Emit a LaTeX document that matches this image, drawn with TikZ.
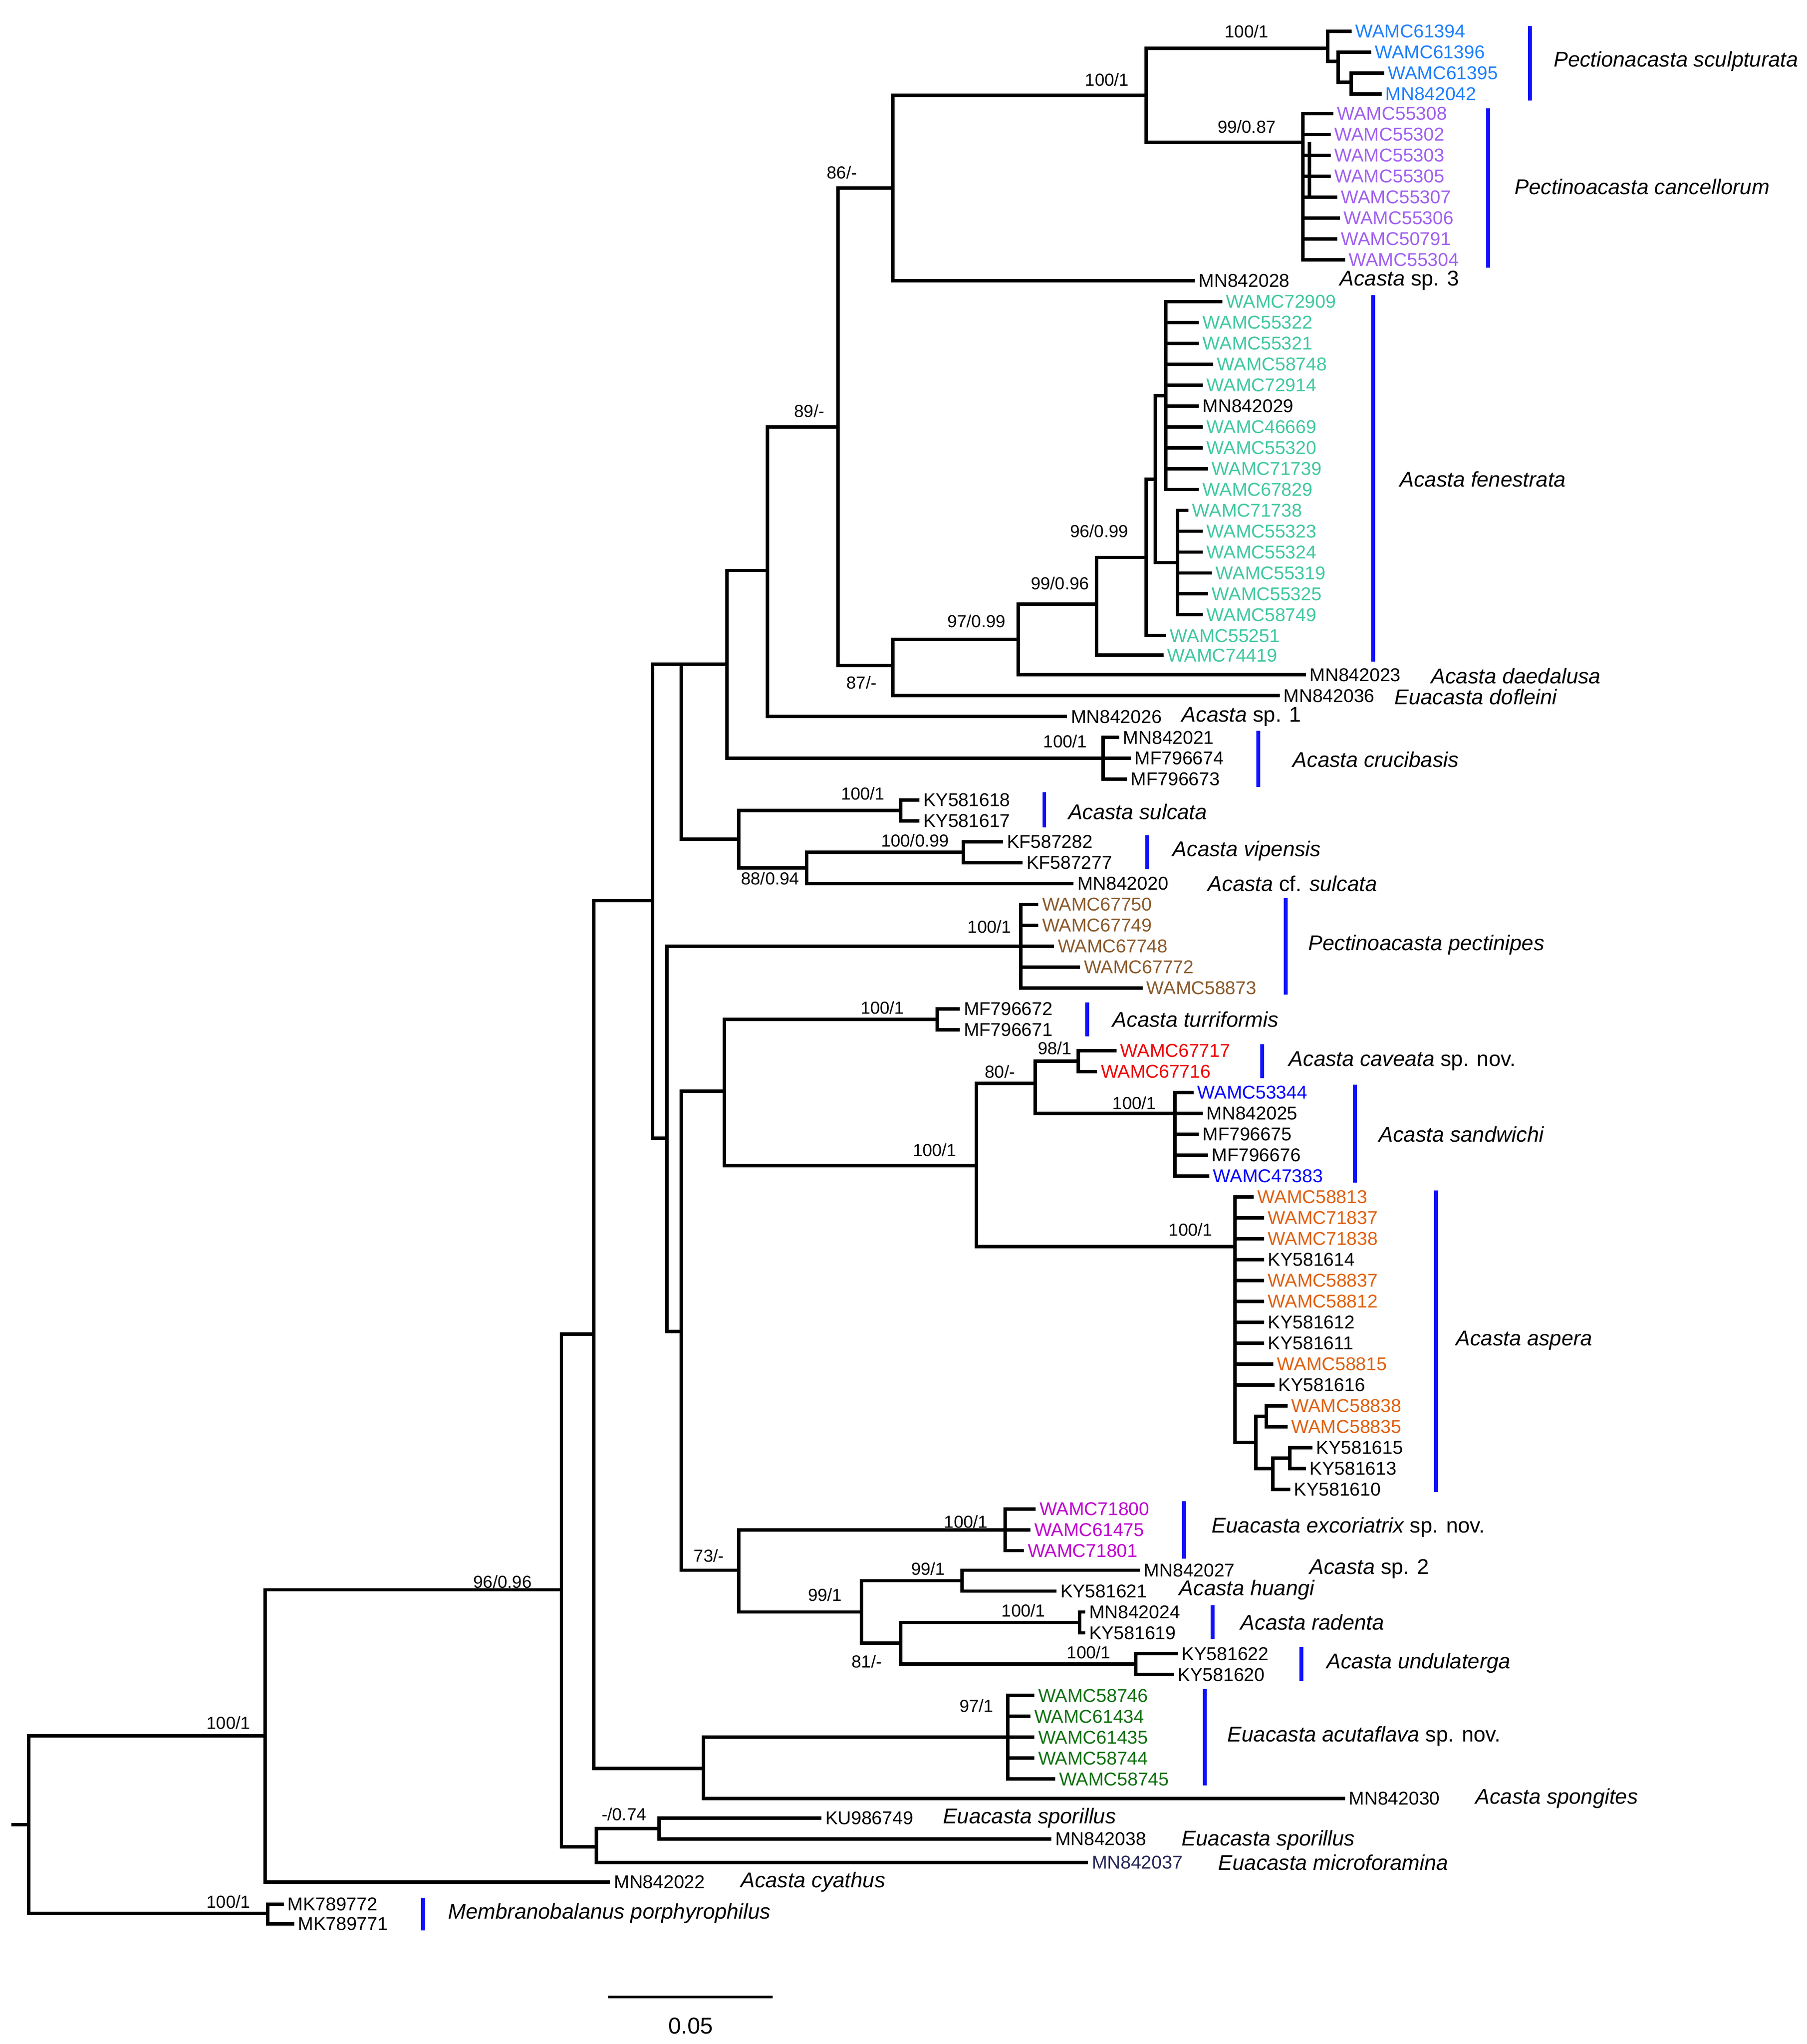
\documentclass[tikz,border=0pt]{standalone}
\usepackage{fontspec}
\setmainfont{Liberation Sans}
\definecolor{cSc}{RGB}{30,127,255}
\definecolor{cCa}{RGB}{160,96,240}
\definecolor{cFe}{RGB}{64,200,160}
\definecolor{cPe}{RGB}{139,90,43}
\definecolor{cCv}{RGB}{240,0,0}
\definecolor{cSa}{RGB}{0,0,255}
\definecolor{cAs}{RGB}{224,96,16}
\definecolor{cEx}{RGB}{192,0,208}
\definecolor{cAc}{RGB}{16,112,16}
\definecolor{cMi}{RGB}{40,40,90}
\definecolor{cBar}{RGB}{16,16,255}
\newcommand\grp[3]{\foreach \lx/\ly/\lt in {#3}{\draw[br] (#1,\ly) -- (\lx-4,\ly); \node[tip,text=#2] at (\lx,\ly) {\lt};}}
\newcommand\vl[3]{\draw[br] (#1,#2) -- (#1,#3);}
\newcommand\hl[3]{\draw[br] (#2,#1) -- (#3,#1);}
\begin{document}
\begin{tikzpicture}[x=0.02cm,y=-0.02cm,
 br/.style={line width=1.5pt,line cap=rect},
 tip/.style={anchor=west,inner sep=0pt,font=\fontsize{8.1}{9}\selectfont},
 sp/.style={anchor=west,inner sep=0pt,font=\fontsize{9.3}{10}\selectfont\itshape},
 bs/.style={inner sep=0pt,font=\fontsize{7.6}{9}\selectfont},
 bar/.style={line width=1.7pt,cBar}]
\useasboundingbox (0,0) rectangle (1384,1566);
% sculpturata
\vl{878}{37}{109}
\hl{37}{878}{1017}\vl{1017}{24}{47}
\grp{1017}{cSc}{1038/24/WAMC61394}
\hl{47}{1017}{1025}\vl{1025}{40}{63}
\grp{1025}{cSc}{1053/40/WAMC61396}
\hl{63}{1025}{1035}\vl{1035}{56}{72}
\grp{1035}{cSc}{1063/56/WAMC61395,1061/72/MN842042}
% cancellorum
\hl{109}{878}{998}\vl{998}{87}{199}
\vl{1003}{110}{150}
\grp{998}{cCa}{1024/87/WAMC55308,1022/103/WAMC55302,1022/119/WAMC55303,1022/135/WAMC55305,1027/151/WAMC55307,1029/167/WAMC55306,1027/183/WAMC50791,1033/199/WAMC55304}
\hl{73}{684}{878}\vl{684}{73}{215}
\grp{684}{black}{918/215/MN842028}
% fenestrata
\hl{144}{642}{684}\vl{642}{144}{510}
\hl{510}{642}{684}\vl{684}{490}{533}
\grp{684}{black}{983/533/MN842036}
\hl{490}{684}{780}\vl{780}{463}{517}
\grp{780}{black}{1003/517/MN842023}
\hl{463}{780}{840}\vl{840}{427}{500}
\grp{840}{cFe}{894/502/WAMC74419}
\hl{427}{840}{878}\vl{878}{367}{487}
\grp{878}{cFe}{896/487/WAMC55251}
\hl{367}{878}{885}\vl{885}{303}{431}
\hl{303}{885}{893}\vl{893}{231}{375}
\grp{893}{cFe}{939/231/WAMC72909,921/247/WAMC55322,921/263/WAMC55321,932/279/WAMC58748,924/295/WAMC72914,924/327/WAMC46669,924/343/WAMC55320,928/359/WAMC71739,921/375/WAMC67829}
\grp{893}{black}{921/311/MN842029}
\hl{431}{885}{902}\vl{902}{391}{471}
\grp{902}{cFe}{913/391/WAMC71738,924/407/WAMC55323,924/423/WAMC55324,931/439/WAMC55319,928/455/WAMC55325,924/471/WAMC58749}
% upper backbone
\hl{327}{588}{642}\vl{588}{327}{549}
\grp{588}{black}{820/549/MN842026}
\hl{437}{557}{588}\vl{557}{437}{581}
\hl{581}{557}{845}\vl{845}{565}{597}
\grp{845}{black}{860/565/MN842021,869/581/MF796674,866/597/MF796673}
\hl{509}{522}{557}\vl{522}{509}{643}
\hl{643}{522}{566}\vl{566}{621}{665}
\hl{621}{566}{690}\vl{690}{613}{629}
\grp{690}{black}{707/613/KY581618,707/629/KY581617}
\hl{665}{566}{618}\vl{618}{653}{677}
\grp{618}{black}{825/677/MN842020}
\hl{653}{618}{738}\vl{738}{645}{661}
\grp{738}{black}{771/645/KF587282,786/661/KF587277}
\hl{509}{500}{522}\vl{500}{509}{872}
% pectinipes and middle
\hl{872}{500}{511}\vl{511}{725}{1020}
\hl{725}{511}{782}\vl{782}{693}{757}
\grp{782}{cPe}{798/693/WAMC67750,798/709/WAMC67749,810/725/WAMC67748,830/741/WAMC67772,878/757/WAMC58873}
\hl{1020}{511}{522}\vl{522}{836}{1203}
\hl{836}{522}{555}\vl{555}{781}{893}
\hl{781}{555}{718}\vl{718}{773}{789}
\grp{718}{black}{738/773/MF796672,738/789/MF796671}
\hl{893}{555}{748}\vl{748}{830}{955}
\hl{830}{748}{793}\vl{793}{813}{853}
\hl{813}{793}{826}\vl{826}{805}{821}
\grp{826}{cCv}{858/805/WAMC67717,843/821/WAMC67716}
\hl{853}{793}{900}\vl{900}{837}{901}
\grp{900}{cSa}{917/837/WAMC53344,929/901/WAMC47383}
\grp{900}{black}{924/853/MN842025,921/869/MF796675,928/885/MF796676}
\hl{955}{748}{946}\vl{946}{917}{1105}
\grp{946}{cAs}{963/917/WAMC58813,971/933/WAMC71837,971/949/WAMC71838,971/981/WAMC58837,971/997/WAMC58812,978/1045/WAMC58815}
\grp{946}{black}{971/965/KY581614,971/1013/KY581612,971/1029/KY581611,979/1061/KY581616}
\hl{1105}{946}{962}\vl{962}{1085}{1125}
\hl{1085}{962}{970}\vl{970}{1077}{1093}
\grp{970}{cAs}{989/1077/WAMC58838,989/1093/WAMC58835}
\hl{1125}{962}{975}\vl{975}{1117}{1141}
\grp{975}{black}{991/1141/KY581610}
\hl{1117}{975}{988}\vl{988}{1109}{1125}
\grp{988}{black}{1008/1109/KY581615,1003/1125/KY581613}
% lower middle
\hl{1203}{522}{566}\vl{566}{1172}{1235}
\hl{1172}{566}{770}\vl{770}{1156}{1188}
\grp{770}{cEx}{796/1156/WAMC71800,792/1172/WAMC61475,787/1188/WAMC71801}
\hl{1235}{566}{660}\vl{660}{1211}{1259}
\hl{1211}{660}{737}\vl{737}{1203}{1219}
\grp{737}{black}{876/1203/MN842027,812/1219/KY581621}
\hl{1259}{660}{690}\vl{690}{1243}{1275}
\hl{1243}{690}{827}\vl{827}{1235}{1251}
\grp{827}{black}{834/1235/MN842024,834/1251/KY581619}
\hl{1275}{690}{870}\vl{870}{1267}{1283}
\grp{870}{black}{905/1267/KY581622,902/1283/KY581620}
% acutaflava
\hl{690}{455}{500}\vl{455}{690}{1355}
\hl{1355}{455}{539}\vl{539}{1331}{1378}
\hl{1331}{539}{772}\vl{772}{1299}{1363}
\grp{772}{cAc}{795/1299/WAMC58746,792/1315/WAMC61434,795/1331/WAMC61435,795/1347/WAMC58744,811/1363/WAMC58745}
\grp{539}{black}{1033/1378/MN842030}
% base
\hl{1022}{430}{455}\vl{430}{1022}{1415}
\hl{1415}{430}{457}\vl{457}{1401}{1427}
\hl{1401}{457}{505}\vl{505}{1393}{1409}
\grp{505}{black}{632/1393/KU986749,808/1409/MN842038}
\grp{457}{cMi}{836/1427/MN842037}
\hl{1218}{203}{430}\vl{203}{1218}{1442}
\grp{203}{black}{470/1442/MN842022}
\hl{1330}{22}{203}\vl{22}{1330}{1466}
\hl{1466}{22}{205}\vl{205}{1459}{1474}
\grp{205}{black}{220/1459/MK789772,228/1474/MK789771}
\hl{1398}{10}{22}
% support values
\foreach \x/\y/\t in {955/24/100\slash 1,848/61/100\slash 1,955/97/99\slash 0.87,645/132/86\slash -,620/315/89\slash -,842/407/96\slash 0.99,812/447/99\slash 0.96,748/476/97\slash 0.99,660/523/87\slash -,816/568/100\slash 1,661/608/100\slash 1,701/644/100\slash 0.99,590/673/88\slash 0.94,758/710/100\slash 1,676/772/100\slash 1,808/803/98\slash 1,766/821/80\slash -,869/845/100\slash 1,716/881/100\slash 1,912/942/100\slash 1,740/1166/100\slash 1,543/1192/73\slash -,711/1202/99\slash 1,632/1222/99\slash 1,784/1234/100\slash 1,664/1273/81\slash -,834/1266/100\slash 1,748/1307/97\slash 1,385/1212/96\slash 0.96,175/1320/100\slash 1,478/1390/-\slash 0.74,175/1457/100\slash 1}
 \node[bs] at (\x,\y) {\t};
% species names
\node[sp] at (1190,47) {Pectionacasta sculpturata};
\node[sp] at (1160,143) {Pectinoacasta cancellorum};
\node[sp] at (1026,215) {Acasta \upshape sp. 3};
\node[sp] at (1072,367) {Acasta fenestrata};
\node[sp] at (1096,518) {Acasta daedalusa};
\node[sp] at (1068,534) {Euacasta dofleini};
\node[sp] at (905,549) {Acasta \upshape sp. 1};
\node[sp] at (990,582) {Acasta crucibasis};
\node[sp] at (818,622) {Acasta sulcata};
\node[sp] at (898,652) {Acasta vipensis};
\node[sp] at (925,677) {Acasta \upshape cf. \itshape sulcata};
\node[sp] at (1002,724) {Pectinoacasta pectinipes};
\node[sp] at (852,781) {Acasta turriformis};
\node[sp] at (987,813) {Acasta caveata \upshape sp. nov.};
\node[sp] at (1056,869) {Acasta sandwichi};
\node[sp] at (1115,1027) {Acasta aspera};
\node[sp] at (928,1170) {Euacasta excoriatrix \upshape sp. nov.};
\node[sp] at (1003,1202) {Acasta \upshape sp. 2};
\node[sp] at (903,1218) {Acasta huangi};
\node[sp] at (950,1243) {Acasta radenta};
\node[sp] at (1016,1274) {Acasta undulaterga};
\node[sp] at (940,1330) {Euacasta acutaflava \upshape sp. nov.};
\node[sp] at (1130,1378) {Acasta spongites};
\node[sp] at (722,1393) {Euacasta sporillus};
\node[sp] at (905,1410) {Euacasta sporillus};
\node[sp] at (933,1427) {Euacasta microforamina};
\node[sp] at (567,1442) {Acasta cyathus};
\node[sp] at (343,1466) {Membranobalanus porphyrophilus};
% bars
\foreach \x/\a/\b in {1172/20/77,1140/83/205,1052/226/507,964/560/603,800/607/634,879/640/666,985/688/762,833/768/794,967/800/826,1038/831/906,1100/912/1143,907/1150/1194,929/1230/1256,997/1262/1288,923/1294/1368,324/1454/1479}
 \draw[bar] (\x,\a) -- (\x,\b);
% scale
\draw[line width=1pt] (466,1530) -- (592,1530);
\node[bs,font=\fontsize{10}{11}\selectfont] at (529,1552) {0.05};
\end{tikzpicture}
\end{document}
